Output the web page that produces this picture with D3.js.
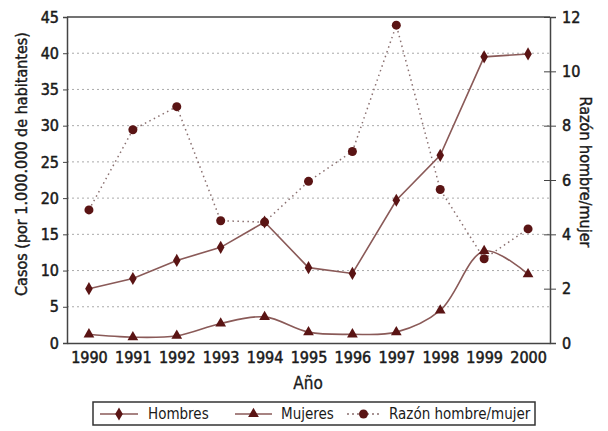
<!DOCTYPE html>
<html><head><meta charset="utf-8">
<script src="https://cdn.jsdelivr.net/npm/d3@7"></script>
<style>
body{margin:0;background:#fff;}
text{font-family:"DejaVu Sans Condensed","DejaVu Sans",sans-serif;font-stretch:condensed;}
</style></head>
<body><svg id="c" width="608" height="431"></svg>
<script>
const years = ["1990","1991","1992","1993","1994","1995","1996","1997","1998","1999","2000"];
const hombres = [7.5, 8.9, 11.4, 13.2, 16.7, 10.4, 9.6, 19.7, 25.9, 39.5, 39.9];
const mujeres = [1.2, 0.8, 1.0, 2.7, 3.6, 1.5, 1.2, 1.5, 4.5, 12.7, 9.5];
const razon = [4.9, 7.85, 8.7, 4.5, 4.45, 5.95, 7.05, 11.7, 5.65, 3.1, 4.2];
const leftTicks = [0,5,10,15,20,25,30,35,40,45];
const rightTicks = [0,2,4,6,8,10,12];
const seriesNames = ["Hombres","Mujeres","Razón hombre/mujer"];

const svg = d3.select("#c");
const L = 67, R = 550, T = 17, B = 343;
const x = d3.scalePoint().domain(years).range([L, R]).padding(0.5);
const yL = d3.scaleLinear().domain([0,45]).range([B, T]);
const yR = d3.scaleLinear().domain([0,12]).range([B, T]);
const lineCol = "#8a5a58", markCol = "#5a1414", axisCol = "#444", txt = "#1a1a1a";
const fs = 16;

// gridlines
svg.append("g").selectAll("line").data(leftTicks.filter(d=>d>0 && d<45)).join("line")
  .attr("x1", L).attr("x2", R).attr("y1", d=>yL(d)).attr("y2", d=>yL(d))
  .attr("stroke", "#aaa").attr("stroke-width", 1).attr("stroke-dasharray", "2,3");

// top border
svg.append("line").attr("x1", L).attr("x2", R).attr("y1", T).attr("y2", T).attr("stroke", axisCol).attr("stroke-width", 1.5);

// left axis
const gL = svg.append("g").attr("transform", `translate(${L},0)`)
  .call(d3.axisLeft(yL).tickValues(leftTicks).tickSize(4).tickPadding(4));
gL.select(".domain").attr("stroke", axisCol).attr("stroke-width", 1.5);
gL.selectAll("line").attr("stroke", axisCol);

// right axis
const gR = svg.append("g").attr("transform", `translate(${R},0)`)
  .call(d3.axisRight(yR).tickValues(rightTicks).tickSize(6).tickPadding(6));
gR.select(".domain").attr("stroke", axisCol).attr("stroke-width", 1.5);
gR.selectAll(".tick line").attr("x1", -6).attr("stroke", axisCol);

// bottom axis
const gB = svg.append("g").attr("transform", `translate(0,${B})`)
  .call(d3.axisBottom(x).tickSize(0).tickPadding(9));
gB.select(".domain").attr("stroke", axisCol).attr("stroke-width", 1.5);

[gL, gR, gB].forEach(g => g.selectAll("text")
  .attr("font-size", fs).attr("fill", txt).attr("stroke", txt).attr("stroke-width", 0.5)
  .style("font-family", '"DejaVu Sans Condensed","DejaVu Sans",sans-serif'));

// titles
svg.append("text").attr("x", 308).attr("y", 389).attr("text-anchor", "middle")
  .attr("font-size", 17).attr("fill", txt).attr("stroke", txt).attr("stroke-width", 0.3).text("Año");
svg.append("text").attr("transform", "translate(27,164) rotate(-90)").attr("text-anchor", "middle")
  .attr("font-size", 16).attr("fill", txt).attr("stroke", txt).attr("stroke-width", 0.4).text("Casos (por 1.000.000 de habitantes)");
svg.append("text").attr("transform", "translate(580,172) rotate(90)").attr("text-anchor", "middle")
  .attr("font-size", 16).attr("fill", txt).attr("stroke", txt).attr("stroke-width", 0.4).text("Razón hombre/mujer");

// ratio dotted line
svg.append("path").datum(razon)
  .attr("d", d3.line().x((d,i)=>x(years[i])).y(d=>yR(d)))
  .attr("fill","none").attr("stroke","#8a7070").attr("stroke-width",1.5).attr("stroke-dasharray","1.5,3.5");

// hombres
svg.append("path").datum(hombres)
  .attr("d", d3.line().x((d,i)=>x(years[i])).y(d=>yL(d)))
  .attr("fill","none").attr("stroke",lineCol).attr("stroke-width",1.6);
// mujeres
svg.append("path").datum(mujeres)
  .attr("d", d3.line().x((d,i)=>x(years[i])).y(d=>yL(d)).curve(d3.curveCatmullRom))
  .attr("fill","none").attr("stroke",lineCol).attr("stroke-width",1.6);

const diamond = d3.symbol().type(d3.symbolDiamond).size(50);
const tri = d3.symbol().type(d3.symbolTriangle).size(50);
svg.append("g").selectAll("path").data(hombres).join("path")
  .attr("transform",(d,i)=>`translate(${x(years[i])},${yL(d)})`).attr("d",diamond).attr("fill",markCol);
svg.append("g").selectAll("path").data(mujeres).join("path")
  .attr("transform",(d,i)=>`translate(${x(years[i])},${yL(d)})`).attr("d",tri).attr("fill",markCol);
svg.append("g").selectAll("circle").data(razon).join("circle")
  .attr("cx",(d,i)=>x(years[i])).attr("cy",d=>yR(d)).attr("r",4.5).attr("fill",markCol);

// legend
const lg = svg.append("g");
lg.append("rect").attr("x",93).attr("y",402).attr("width",442).attr("height",23)
  .attr("fill","#fff").attr("stroke","#333").attr("stroke-width",1.5);
const items = [
  {name:seriesNames[0], x0:100, x1:138, tx:148, type:"d"},
  {name:seriesNames[1], x0:235, x1:272, tx:281, type:"t"},
  {name:seriesNames[2], x0:347, x1:380, tx:389, type:"c"}
];
items.forEach(it=>{
  const cy = 414, cx = (it.x0+it.x1)/2;
  lg.append("line").attr("x1",it.x0).attr("x2",it.x1).attr("y1",cy).attr("y2",cy)
    .attr("stroke", it.type==="c" ? "#8a7070" : lineCol).attr("stroke-width",1.6)
    .attr("stroke-dasharray", it.type==="c" ? "2,3" : null);
  if (it.type==="d") lg.append("path").attr("transform",`translate(${cx},${cy})`).attr("d",diamond).attr("fill",markCol);
  if (it.type==="t") lg.append("path").attr("transform",`translate(${cx},${cy})`).attr("d",tri).attr("fill",markCol);
  if (it.type==="c") lg.append("circle").attr("cx",cx).attr("cy",cy).attr("r",4.5).attr("fill",markCol);
  lg.append("text").attr("x",it.tx).attr("y",cy+5).attr("font-size",15).attr("fill",txt).text(it.name);
});
</script></body></html>
